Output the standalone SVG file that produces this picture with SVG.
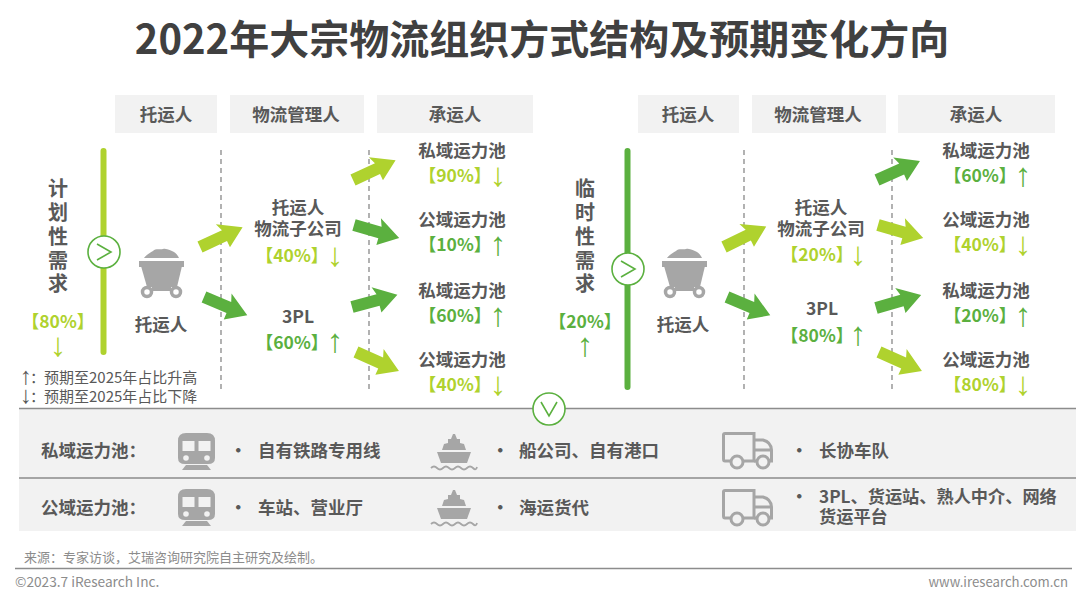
<svg xmlns="http://www.w3.org/2000/svg" width="1080" height="598" viewBox="0 0 1080 598">
<style>
text{font-family:"Noto Sans CJK SC","Noto Sans",sans-serif;fill:#595959}
.b{font-weight:700;font-size:17.500px;text-anchor:middle}
.l{font-weight:700;font-size:17.500px}
.v{font-weight:700;font-size:20px;text-anchor:middle}
.pl{font-weight:700;font-size:17.500px;text-anchor:middle;fill:#afd22e}
.pd{font-weight:700;font-size:17.500px;text-anchor:middle;fill:#5bb03f}
.aw{font-family:"Liberation Sans",sans-serif;font-weight:400;font-size:33px}
.law{font-family:"Liberation Sans",sans-serif;font-size:24px;text-anchor:middle}
.hd{fill:#f2f2f2}
.dash{stroke:#7f7f7f;stroke-width:1.2;stroke-dasharray:5 4;fill:none}
.rule{stroke:#8c8c8c;stroke-width:1.6;fill:none}
.ic{fill:#a6a6a6}
.light{fill:#afd22e}
.dark{fill:#5bb03f}
.circ{fill:#fff;stroke:#5bb03f;stroke-width:1.6}
.chev{fill:none;stroke:#5bb03f;stroke-width:1.6}
.leg{font-size:15px}
.ft{fill:#8c8c8c}
</style>
<defs>
<path id="arr" d="M0 -6 L27 -6 L24 -14 L47 0 L27 13 L27 6 L0 6Z"/>
<g id="cart">
<path class="ic" d="M144 258 C147 254 150 253 153 251 C156 248 160 250 163 249 C167 248 171 251 174 252 C177 254 178 256 179 258Z"/>
<rect class="ic" x="139" y="261" width="45" height="6"/>
<path class="ic" d="M141 266 H182 L177 287 H147Z"/>
<circle cx="147" cy="292" r="4.500" fill="#fff" stroke="#a6a6a6" stroke-width="3.500"/>
<circle cx="176" cy="292" r="4.500" fill="#fff" stroke="#a6a6a6" stroke-width="3.500"/>
<path class="ic" d="M152 286 H171 V291 H152Z"/>
</g>
<g id="train">
<path class="ic" d="M8 0 H29 Q37 0 37 8 V25 Q37 31 30 31 H7 Q0 31 0 25 V8 Q0 0 8 0Z"/>
<rect x="4.500" y="8" width="12" height="10" fill="#f2f2f2"/>
<rect x="20.500" y="8" width="12" height="10" fill="#f2f2f2"/>
<circle cx="8" cy="25" r="2.800" fill="#f2f2f2"/>
<circle cx="29" cy="25" r="2.800" fill="#f2f2f2"/>
<path class="ic" d="M8 32 H29 L33 37 H4Z"/>
</g>
<g id="ship">
<path class="ic" d="M20 5 L22 0 L24 0 L26 5 L29 5 L29 9 L33 10 L35 16 H11 L13 10 L17 9 L17 5Z"/>
<path class="ic" d="M6 18 H40 L36 29 H10Z"/>
<path d="M0 34 Q3 31 6 34 T12 34 T18 34 T24 34 T30 34 T36 34 T42 34 T46 33" fill="none" stroke="#a6a6a6" stroke-width="1.800"/>
</g>
<g id="truck" fill="none" stroke="#a6a6a6" stroke-width="3">
<path d="M9 29 H3 Q1.500 29 1.500 27 V3 Q1.500 1.500 3 1.500 H32 V29 H22"/>
<path d="M32 8 H41 Q49 10 49.500 18 V29 H47"/>
<path d="M32 18 H49"/>
<path d="M32 29 H36"/>
<circle cx="15" cy="30" r="6"/>
<circle cx="41" cy="30" r="6"/>
</g>
</defs>
<rect width="1080" height="598" fill="#fff"/>
<text id="title" x="542" y="54" text-anchor="middle" font-size="40" font-weight="700" style="fill:#404040">2022年大宗物流组织方式结构及预期变化方向</text>
<g id="band">
<rect x="19" y="409" width="1057" height="122" fill="#f2f2f2"/>
<path class="rule" d="M19 408.500 H1076 M19 478 H1076"/>
</g>
<g id="headers">
<g id="h1"><rect class="hd" x="115" y="95" width="102" height="38"/><text class="b" x="166" y="121">托运人</text></g>
<g id="h2"><rect class="hd" x="230" y="95" width="134" height="38"/><text class="b" x="296" y="121">物流管理人</text></g>
<g id="h3"><rect class="hd" x="377" y="95" width="156" height="38"/><text class="b" x="455" y="121">承运人</text></g>
<g id="h4"><rect class="hd" x="638" y="95" width="101" height="38"/><text class="b" x="688" y="121">托运人</text></g>
<g id="h5"><rect class="hd" x="752" y="95" width="134" height="38"/><text class="b" x="818" y="121">物流管理人</text></g>
<g id="h6"><rect class="hd" x="898" y="95" width="157" height="38"/><text class="b" x="976" y="121">承运人</text></g>
</g>
<g id="guides">
<path class="dash" d="M221 150 V390 M369 150 V390 M744 150 V390 M892 150 V390"/>
</g>
<g id="connectors">
<use href="#arr" class="light" transform="translate(200 247) rotate(-25)"/>
<use href="#arr" class="dark" transform="translate(204 297) rotate(23)"/>
<use href="#arr" class="light" transform="translate(353 180) rotate(-25)"/>
<use href="#arr" class="dark" transform="translate(354 225) rotate(16)"/>
<use href="#arr" class="dark" transform="translate(352 307) rotate(-15)"/>
<use href="#arr" class="light" transform="translate(356 352) rotate(24)"/>
<use href="#arr" class="light" transform="translate(724 247) rotate(-26)"/>
<use href="#arr" class="dark" transform="translate(727 297) rotate(23)"/>
<use href="#arr" class="dark" transform="translate(877 180) rotate(-24)"/>
<use href="#arr" class="light" transform="translate(878 225) rotate(16)"/>
<use href="#arr" class="dark" transform="translate(876 308) rotate(-16)"/>
<use href="#arr" class="light" transform="translate(879 352) rotate(24)"/>
</g>
<g id="plan">
<text class="v"><tspan x="58" y="196">计</tspan><tspan x="58" y="220">划</tspan><tspan x="58" y="244">性</tspan><tspan x="58" y="268">需</tspan><tspan x="58" y="291">求</tspan></text>
<text class="pl" x="58" y="328">【80%】<tspan class="aw" x="58" y="356">↓</tspan></text>
<rect class="light" x="100.500" y="148" width="6" height="207" rx="3"/>
<circle class="circ" cx="104" cy="252" r="16"/>
<path class="chev" d="M97 244 L111 252 L97 260"/>
</g>
<g id="temp">
<text class="v"><tspan x="585" y="196">临</tspan><tspan x="585" y="220">时</tspan><tspan x="585" y="244">性</tspan><tspan x="585" y="268">需</tspan><tspan x="585" y="291">求</tspan></text>
<text class="pd" x="585" y="328">【20%】<tspan class="aw" x="585" y="356">↑</tspan></text>
<rect class="dark" x="624.500" y="148" width="6" height="242" rx="3"/>
<circle class="circ" cx="628" cy="269" r="16"/>
<path class="chev" d="M621 261 L635 269 L621 277"/>
</g>
<g id="shipper1"><use href="#cart"/><text class="b" x="161" y="331">托运人</text></g>
<g id="shipper2"><use href="#cart" transform="translate(523 0)"/><text class="b" x="683" y="331">托运人</text></g>
<g id="mgr1a"><text class="b"><tspan x="298" y="214">托运人</tspan><tspan x="298" y="235">物流子公司</tspan></text><text class="pl" x="292" y="262">【40%】<tspan class="aw" x="335" y="266">↓</tspan></text></g>
<g id="mgr1b"><text class="b" x="298" y="323">3PL</text><text class="pd" x="292" y="349">【60%】<tspan class="aw" x="335" y="352">↑</tspan></text></g>
<g id="mgr2a"><text class="b"><tspan x="821" y="214">托运人</tspan><tspan x="821" y="235">物流子公司</tspan></text><text class="pl" x="817" y="261">【20%】<tspan class="aw" x="858" y="265">↓</tspan></text></g>
<g id="mgr2b"><text class="b" x="822" y="315">3PL</text><text class="pd" x="817" y="342">【80%】<tspan class="aw" x="858" y="345">↑</tspan></text></g>
<g id="c1"><text class="b" x="462" y="157">私域运力池</text><text class="pl" x="455" y="182">【90%】<tspan class="aw" x="498" y="186">↓</tspan></text></g>
<g id="c2"><text class="b" x="462" y="226">公域运力池</text><text class="pd" x="455" y="251">【10%】<tspan class="aw" x="498" y="255">↑</tspan></text></g>
<g id="c3"><text class="b" x="462" y="297">私域运力池</text><text class="pd" x="455" y="322">【60%】<tspan class="aw" x="498" y="326">↑</tspan></text></g>
<g id="c4"><text class="b" x="462" y="366">公域运力池</text><text class="pl" x="455" y="391">【40%】<tspan class="aw" x="498" y="395">↓</tspan></text></g>
<g id="c5"><text class="b" x="986" y="157">私域运力池</text><text class="pd" x="980" y="182">【60%】<tspan class="aw" x="1023" y="186">↑</tspan></text></g>
<g id="c6"><text class="b" x="986" y="226">公域运力池</text><text class="pl" x="980" y="251">【40%】<tspan class="aw" x="1023" y="255">↓</tspan></text></g>
<g id="c7"><text class="b" x="986" y="297">私域运力池</text><text class="pd" x="980" y="322">【20%】<tspan class="aw" x="1023" y="326">↑</tspan></text></g>
<g id="c8"><text class="b" x="986" y="366">公域运力池</text><text class="pl" x="980" y="391">【80%】<tspan class="aw" x="1023" y="395">↓</tspan></text></g>
<g id="legend">
<text class="leg"><tspan class="law" x="26" y="384">↑</tspan><tspan x="30" y="383">：</tspan><tspan x="44" y="383">预期至2025年占比升高</tspan><tspan class="law" x="26" y="403">↓</tspan><tspan x="30" y="402">：</tspan><tspan x="44" y="402">预期至2025年占比下降</tspan></text>
</g>
<g id="toggle"><circle class="circ" cx="549" cy="409" r="16"/><path class="chev" d="M541 402 L549 416 L557 402"/></g>
<g id="row1">
<text class="l" x="41" y="457">私域运力池：</text>
<use href="#train" transform="translate(178 433)"/>
<text class="l" x="229.500" y="457">·</text>
<text class="l" x="258" y="457">自有铁路专用线</text>
<use href="#ship" transform="translate(431 434)"/>
<text class="l" x="491.500" y="457">·</text>
<text class="l" x="519" y="457">船公司、自有港口</text>
<use href="#truck" transform="translate(722 432)"/>
<text class="l" x="790.500" y="457">·</text>
<text class="l" x="819" y="457">长协车队</text>
</g>
<g id="row2">
<text class="l" x="41" y="514">公域运力池：</text>
<use href="#train" transform="translate(178 489)"/>
<text class="l" x="229.500" y="514">·</text>
<text class="l" x="258" y="514">车站、营业厅</text>
<use href="#ship" transform="translate(431 490)"/>
<text class="l" x="491.500" y="514">·</text>
<text class="l" x="519" y="514">海运货代</text>
<use href="#truck" transform="translate(722 489)"/>
<text class="l" x="790.500" y="503">·</text>
<text class="l" style="font-size:17.200px"><tspan x="819" y="503">3PL、货运站、熟人中介、网络</tspan><tspan x="819" y="523">货运平台</tspan></text>
</g>
<g id="footer">
<text class="ft" x="24" y="562" font-size="13">来源：专家访谈，艾瑞咨询研究院自主研究及绘制。</text>
<path class="rule" d="M15 568.500 H1072"/>
<text class="ft" x="15" y="587" font-size="13.700">©2023.7 iResearch Inc.</text>
<text class="ft" x="1068" y="587" font-size="13.200" text-anchor="end">www.iresearch.com.cn</text>
</g>
</svg>
